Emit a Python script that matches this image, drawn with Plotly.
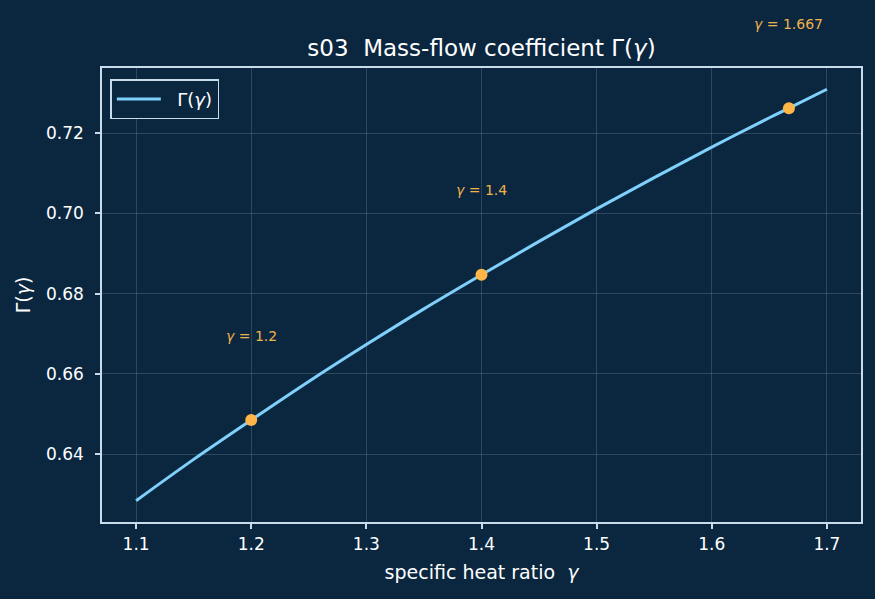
import plotly.graph_objects as go

gamma = [1.10, 1.15, 1.20, 1.25, 1.30, 1.35, 1.40, 1.45, 1.50, 1.55, 1.60, 1.65, 1.667, 1.70]
Gamma = [0.6284, 0.6387, 0.6485, 0.6581, 0.6673, 0.6762, 0.6847, 0.6930, 0.7011, 0.7089, 0.7165, 0.7238, 0.7262, 0.7309]

mark_g = [1.2, 1.4, 1.667]
mark_G = [0.6485, 0.6847, 0.7262]
mark_lbl = ["1.2", "1.4", "1.667"]

x_range = [1.0704, 1.7296]
y_range = [0.6231, 0.7362]
label_offset = 0.021

bg = "#0b2740"
spine = "#c9dcec"
font = "DejaVu Sans"

fig = go.Figure()
fig.add_trace(go.Scatter(x=gamma, y=Gamma, mode="lines", name="\u00a0\u00a0Γ(<i>γ</i>)",
                         line=dict(color="#7fd0fb", width=3), line_shape="spline"))
fig.add_trace(go.Scatter(x=mark_g, y=mark_G, mode="markers", showlegend=False,
                         marker=dict(color="#ffb547", size=12)))
for g, G, t in zip(mark_g, mark_G, mark_lbl):
    # position in paper coordinates so labels above the axes are not hidden
    py = (G + label_offset - y_range[0]) / (y_range[1] - y_range[0])
    fig.add_annotation(x=g, xref="x", y=py, yref="paper", text="<i>γ</i> = " + t,
                       showarrow=False,
                       font=dict(color="#f0b24a", size=14, family=font),
                       xanchor="center", yanchor="middle")

axis_common = dict(showline=True, linecolor=spine, linewidth=1.5, mirror=True,
                   ticks="outside", ticklen=5, tickcolor=spine, tickwidth=1.5,
                   gridcolor="rgba(255,255,255,0.15)", gridwidth=1, zeroline=False,
                   tickfont=dict(color="white", size=17, family=font))

fig.update_layout(
    width=875, height=599,
    paper_bgcolor=bg, plot_bgcolor=bg,
    margin=dict(l=102, r=14, t=68, b=77),
    title=dict(text="s03  Mass-flow coefficient Γ(<i>γ</i>)", x=0.5, xref="paper", xanchor="center",
               y=1 - 48/599, yanchor="middle",
               font=dict(color="white", size=23, family=font)),
    xaxis=dict(range=x_range, tickvals=[1.1, 1.2, 1.3, 1.4, 1.5, 1.6, 1.7],
               ticktext=["1.1", "1.2", "1.3", "1.4", "1.5", "1.6", "1.7"],
               ticklabelstandoff=1,
               title=dict(text="specific heat ratio  <i>γ</i>", font=dict(color="white", size=19, family=font), standoff=13),
               **axis_common),
    yaxis=dict(range=y_range, tickvals=[0.64, 0.66, 0.68, 0.70, 0.72],
               ticktext=["0.64", "0.66", "0.68", "0.70", "0.72"],
               ticklabelstandoff=8,
               title=dict(text="Γ(<i>γ</i>)", font=dict(color="white", size=19, family=font), standoff=10),
               **axis_common),
    legend=dict(x=0.011, y=0.975, xanchor="left", yanchor="top",
                bgcolor=bg, bordercolor=spine, borderwidth=1.5, itemwidth=44,
                font=dict(color="white", size=18, family=font)),
)
fig.write_html("out.html")
